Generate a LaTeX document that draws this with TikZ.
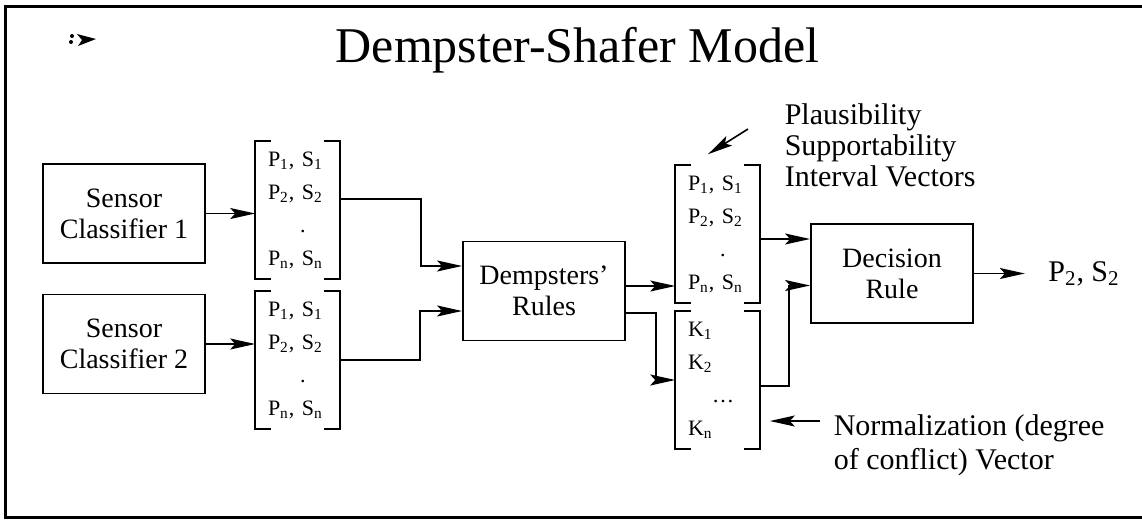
\documentclass[tikz,border=0pt]{standalone}
\usepackage{fontspec}
\setmainfont{Liberation Serif}
\usetikzlibrary{arrows.meta,positioning}

\begin{document}
\begin{tikzpicture}[->,>={Stealth[length=12.5pt,width=5.5pt,inset=2.5pt]},thick,
                    x=0.5pt,y=-0.5pt,node distance=86.75pt]
\tikzstyle{blk}=[draw,line width=0.9pt,minimum width=81pt,minimum height=49.5pt,
                 inner sep=0pt,align=center,font=\fontsize{14pt}{15.5pt}\selectfont]
\tikzstyle{vec}=[inner xsep=6pt,inner ysep=0pt,text width=29.5pt,minimum height=68pt,
                 align=left,font=\fontsize{11pt}{16.5pt}\selectfont]
\tikzstyle{note}=[inner sep=2pt,align=left,anchor=west,font=\fontsize{15pt}{15.5pt}\selectfont]
\tikzstyle{brk}=[-,line width=0.9pt]

        \useasboundingbox (0,0) rectangle (1142,521);
        \draw[-,line width=1.5pt] (1142,6) -- (5.5,6) -- (5.5,517) -- (1142,517);
        \fill[-] (77,34) -- (96,39) -- (78,46) -- (82,40) -- cycle;
        \fill[-] (72,36) circle (2);
        \fill[-] (71,42) circle (2);

        \node[font=\fontsize{25pt}{30pt}\selectfont] (ttl) at (577.5,50.5) {Dempster-Shafer Model};

        \node[blk]                    (S1) at (124,213.5)                     {Sensor\\Classifier 1};
        \node[blk]                    (S2) [below of=S1, node distance=65.25pt] {Sensor\\Classifier 2};

        \node[vec]                    (v1) [right of=S1, yshift=1.75pt]
              {P\textsubscript{1}, S\textsubscript{1}\\ P\textsubscript{2}, S\textsubscript{2}\\ \hspace*{16pt}.\\ P\textsubscript{n}, S\textsubscript{n}};
        \node[vec]                    (v2) [right of=S2, yshift=-8pt]
              {P\textsubscript{1}, S\textsubscript{1}\\ P\textsubscript{2}, S\textsubscript{2}\\ \hspace*{16pt}.\\ P\textsubscript{n}, S\textsubscript{n}};

        \node[blk]                    (D)  [right of=v1, node distance=123.25pt, yshift=-40.5pt] {Dempsters'\\Rules};

        \node[vec]                    (v3) [right of=D, yshift=28.5pt]
              {P\textsubscript{1}, S\textsubscript{1}\\ P\textsubscript{2}, S\textsubscript{2}\\ \hspace*{16pt}.\\ P\textsubscript{n}, S\textsubscript{n}};
        \node[vec]                    (vk) [below of=v3, node distance=73pt]
              {K\textsubscript{1}\\ K\textsubscript{2}\\ \hspace*{12pt}\dots\\ K\textsubscript{n}};

        \node[blk]                    (Dec) [right of=v3, node distance=87.25pt, yshift=-19.75pt] {Decision\\Rule};
        \node[font=\fontsize{15pt}{18pt}\selectfont] (out) [right of=Dec, node distance=96pt]
              {P\textsubscript{2}, S\textsubscript{2}};

        \node[note] (pl) at (780,145) {Plausibility\\Supportability\\Interval Vectors};
        \node[note,font=\fontsize{15pt}{17pt}\selectfont] (nm) at (829,445) {Normalization (degree\\of conflict) Vector};

        % brackets
        \draw[brk] ([xshift=8pt]v1.north west) -| (v1.south west) -- ++(16,0);
        \draw[brk] ([xshift=-8pt]v1.north east) -| (v1.south east) -- ++(-16,0);
        \draw[brk] ([xshift=8pt]v2.north west) -| (v2.south west) -- ++(16,0);
        \draw[brk] ([xshift=-8pt]v2.north east) -| (v2.south east) -- ++(-16,0);
        \draw[brk] ([xshift=8pt]v3.north west) -| (v3.south west) -- ++(16,0);
        \draw[brk] ([xshift=-8pt]v3.north east) -| (v3.south east) -- ++(-16,0);
        \draw[brk] ([xshift=8pt]vk.north west) -| (vk.south west) -- ++(16,0);
        \draw[brk] ([xshift=-8pt]vk.north east) -| (vk.south east) -- ++(-16,0);

        \coordinate (nt) at ([xshift=-4.5pt,yshift=12pt]nm.west);

        \draw (S1.east) -- (S1.east -| v1.west);
        \draw (S2.east) -- (S2.east -| v2.west);
        \draw ([yshift=5.5pt]v1.east) -- ++(81,0) |- ([yshift=12.5pt]D.west);
        \draw (v2.east) -- ++(80,0) |- ([yshift=-10pt]D.west);
        \draw ([yshift=2.5pt]D.east) -- ([yshift=2.5pt]D.east -| v3.west);
        \draw ([yshift=-11pt]D.east) -- ++(30,0) |- (vk.west);
        \draw ([yshift=-2.5pt]v3.east) -- ([yshift=-2.5pt]v3.east -| Dec.west);
        \draw ([yshift=-3pt]vk.east) -- ++(29,0) |- ([yshift=-6pt]Dec.west);
        \draw[shorten >=8pt] (Dec.east) -- (Dec.east -| out.west);
        \draw ([xshift=-16pt,yshift=8pt]pl.west) -- ([xshift=-4.75pt,yshift=5.5pt]v3.north);
        \draw[shorten >=5pt] (nt) -- (nt -| vk.east);
        %end paths
\end{tikzpicture}
\end{document}
